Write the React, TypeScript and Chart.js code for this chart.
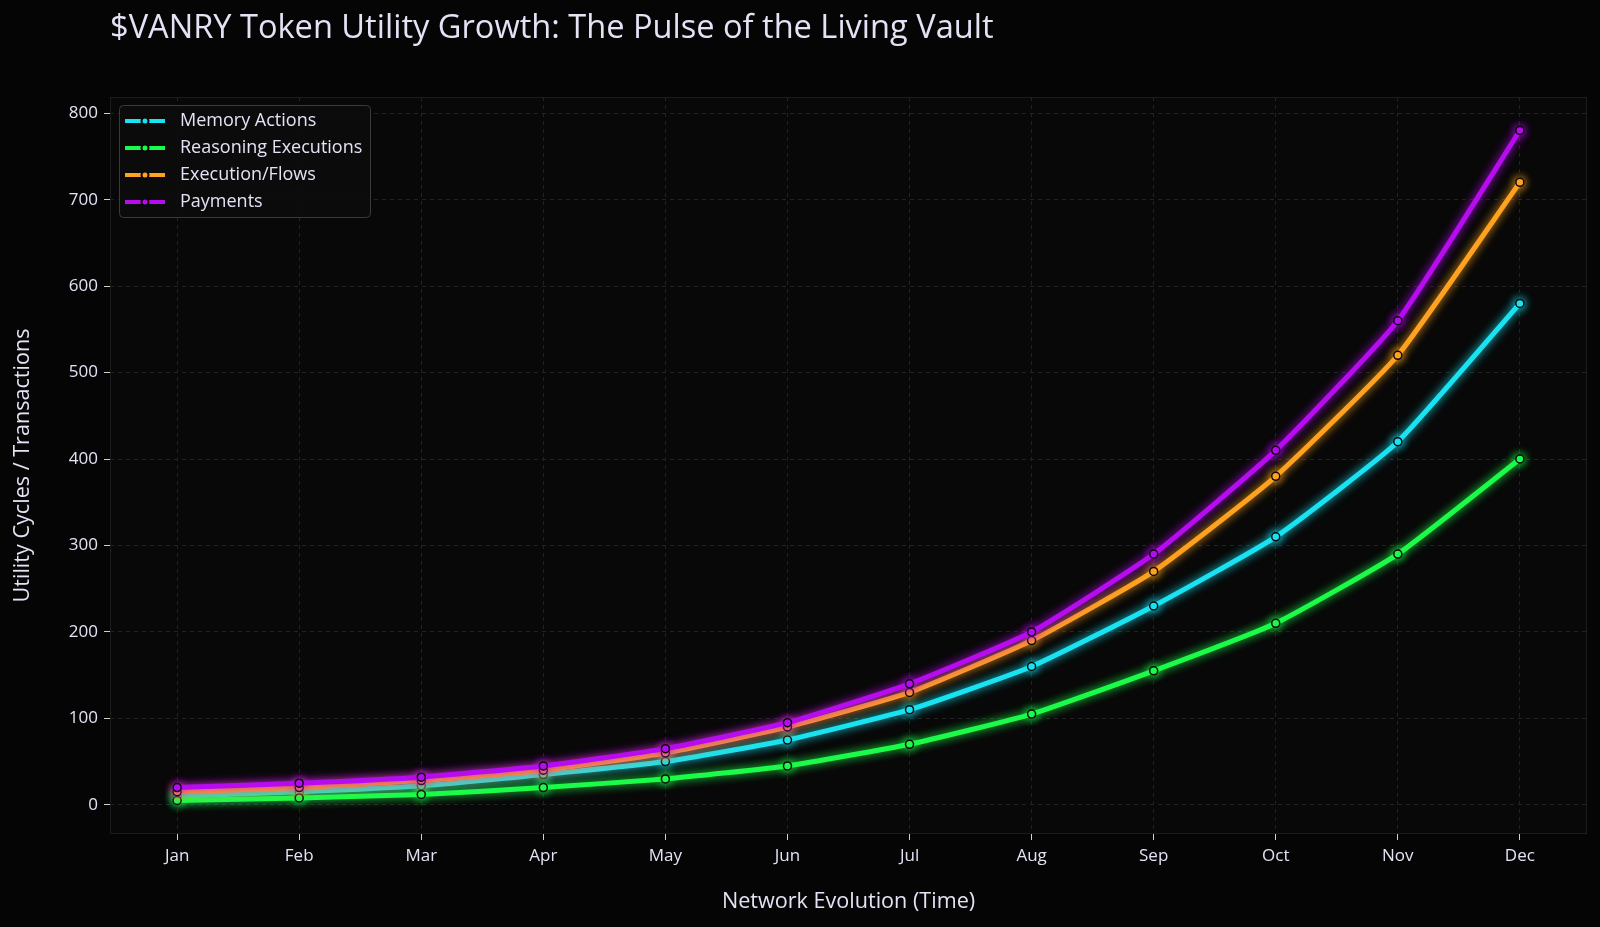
import React, { useEffect, useRef } from "react";
import { Chart, registerables } from "chart.js";

Chart.register(...registerables);

const months = ["Jan", "Feb", "Mar", "Apr", "May", "Jun", "Jul", "Aug", "Sep", "Oct", "Nov", "Dec"];
const memoryActions = [10, 15, 22, 35, 50, 75, 110, 160, 230, 310, 420, 580];
const reasoningExecutions = [5, 8, 12, 20, 30, 45, 70, 105, 155, 210, 290, 400];
const executionFlows = [15, 20, 28, 40, 60, 90, 130, 190, 270, 380, 520, 720];
const payments = [20, 25, 32, 45, 65, 95, 140, 200, 290, 410, 560, 780];
const yTicks = [0, 100, 200, 300, 400, 500, 600, 700, 800];

const seriesNames = ["Memory Actions", "Reasoning Executions", "Execution/Flows", "Payments"];
const seriesValues = [memoryActions, reasoningExecutions, executionFlows, payments];
const seriesColors = ["#19e3f2", "#1dfb4a", "#ffa21f", "#b70cf0"];

const FONT = "'Open Sans', sans-serif";
const TEXT = "#e4e2f5";

const decor = {
  id: "decor",
  beforeDraw(chart: any) {
    const { ctx, chartArea: a, width, height } = chart;
    ctx.save();
    ctx.fillStyle = "#050505";
    ctx.fillRect(0, 0, width, height);
    ctx.fillStyle = "#080808";
    ctx.fillRect(a.left, a.top, a.right - a.left, a.bottom - a.top);
    ctx.restore();
  },
  beforeDatasetDraw(chart: any, args: any) {
    const ds = chart.data.datasets[args.index];
    chart.ctx.save();
    chart.ctx.shadowColor = ds.borderColor;
    chart.ctx.shadowBlur = 10;
  },
  afterDatasetDraw(chart: any) {
    chart.ctx.restore();
  },
  afterDraw(chart: any) {
    const { ctx, chartArea: a } = chart;
    ctx.save();
    ctx.strokeStyle = "#1c1c1c";
    ctx.lineWidth = 1;
    ctx.strokeRect(a.left + 0.5, a.top + 0.5, a.right - a.left - 1, a.bottom - a.top - 1);
    ctx.fillStyle = TEXT;
    ctx.textBaseline = "middle";
    ctx.textAlign = "left";
    ctx.font = `32.6px ${FONT}`;
    ctx.fillText("$VANRY Token Utility Growth: The Pulse of the Living Vault", a.left, 29);
    ctx.font = `21.6px ${FONT}`;
    ctx.textAlign = "center";
    ctx.fillText("Network Evolution (Time)", (a.left + a.right) / 2, 902);
    ctx.save();
    ctx.translate(23, (a.top + a.bottom) / 2);
    ctx.rotate(-Math.PI / 2);
    ctx.fillText("Utility Cycles / Transactions", 0, 0);
    ctx.restore();
    const bx = 119, by = 105, bw = 251, bh = 112;
    ctx.fillStyle = "rgba(12,12,12,0.9)";
    ctx.strokeStyle = "#3a3a3a";
    ctx.lineWidth = 1;
    ctx.beginPath();
    (ctx as any).roundRect(bx + 0.5, by + 0.5, bw, bh, 4);
    ctx.fill();
    ctx.stroke();
    ctx.font = `18px ${FONT}`;
    ctx.textAlign = "left";
    seriesNames.forEach((name, i) => {
      const y = 121 + i * 27;
      ctx.strokeStyle = seriesColors[i];
      ctx.lineWidth = 4;
      ctx.beginPath();
      ctx.moveTo(125, y);
      ctx.lineTo(165, y);
      ctx.stroke();
      ctx.fillStyle = seriesColors[i];
      ctx.strokeStyle = "#0a0a0a";
      ctx.lineWidth = 2;
      ctx.beginPath();
      ctx.arc(145, y, 3.5, 0, Math.PI * 2);
      ctx.fill();
      ctx.stroke();
      ctx.fillStyle = TEXT;
      ctx.fillText(name, 180, y);
    });
    ctx.restore();
  },
};

export default function App() {
  const ref = useRef<HTMLCanvasElement>(null);
  useEffect(() => {
    document.body.style.margin = "0";
    document.body.style.background = "#050505";
    const chart = new Chart(ref.current!, {
      type: "line",
      data: {
        datasets: seriesNames.map((name, i) => ({
          label: name,
          data: seriesValues[i].map((v, j) => ({ x: j, y: v })),
          order: seriesNames.length - 1 - i,
          borderColor: seriesColors[i],
          backgroundColor: seriesColors[i],
          pointBackgroundColor: seriesColors[i],
          pointBorderColor: "#0a0a0a",
          pointBorderWidth: 1.5,
          pointRadius: 4,
          borderWidth: 5,
          tension: 0.15,
          fill: false,
        })),
      },
      options: {
        animation: false,
        responsive: false,
        maintainAspectRatio: false,
        layout: { padding: { top: 97, right: 13, left: 0, bottom: 0 } },
        plugins: { legend: { display: false }, tooltip: { enabled: false }, title: { display: false } },
        scales: {
          x: {
            type: "linear",
            min: -0.55,
            max: 11.55,
            afterFit: (s: any) => { s.height = 93; },
            grid: { color: "#222222", tickColor: "#d0d0d0", tickLength: 6, tickBorderDash: [] as any, lineWidth: 1 } as any,
            border: { display: false, dash: [4, 4] },
            ticks: {
              stepSize: 1,
              includeBounds: false,
              autoSkip: false,
              maxRotation: 0,
              padding: 6,
              color: TEXT,
              font: { family: FONT, size: 17 },
              callback: (v: any) => (Number.isInteger(v) && v >= 0 && v < months.length ? months[v] : ""),
            },
          },
          y: {
            type: "linear",
            min: -33.75,
            max: 818.75,
            afterFit: (s: any) => { s.width = 110; },
            grid: { color: "#222222", tickColor: "#d0d0d0", tickLength: 6, tickBorderDash: [] as any, lineWidth: 1 } as any,
            border: { display: false, dash: [4, 4] },
            ticks: {
              stepSize: 100,
              includeBounds: false,
              padding: 6,
              color: TEXT,
              font: { family: FONT, size: 17 },
              callback: (v: any) => (yTicks.includes(v) ? String(v) : ""),
            },
          },
        },
      },
      plugins: [decor],
    } as any);
    return () => chart.destroy();
  }, []);
  return (
    <div style={{ width: 1600, height: 927, background: "#050505" }}>
      <canvas ref={ref} width={1600} height={927} style={{ display: "block", width: 1600, height: 927 }} />
    </div>
  );
}
